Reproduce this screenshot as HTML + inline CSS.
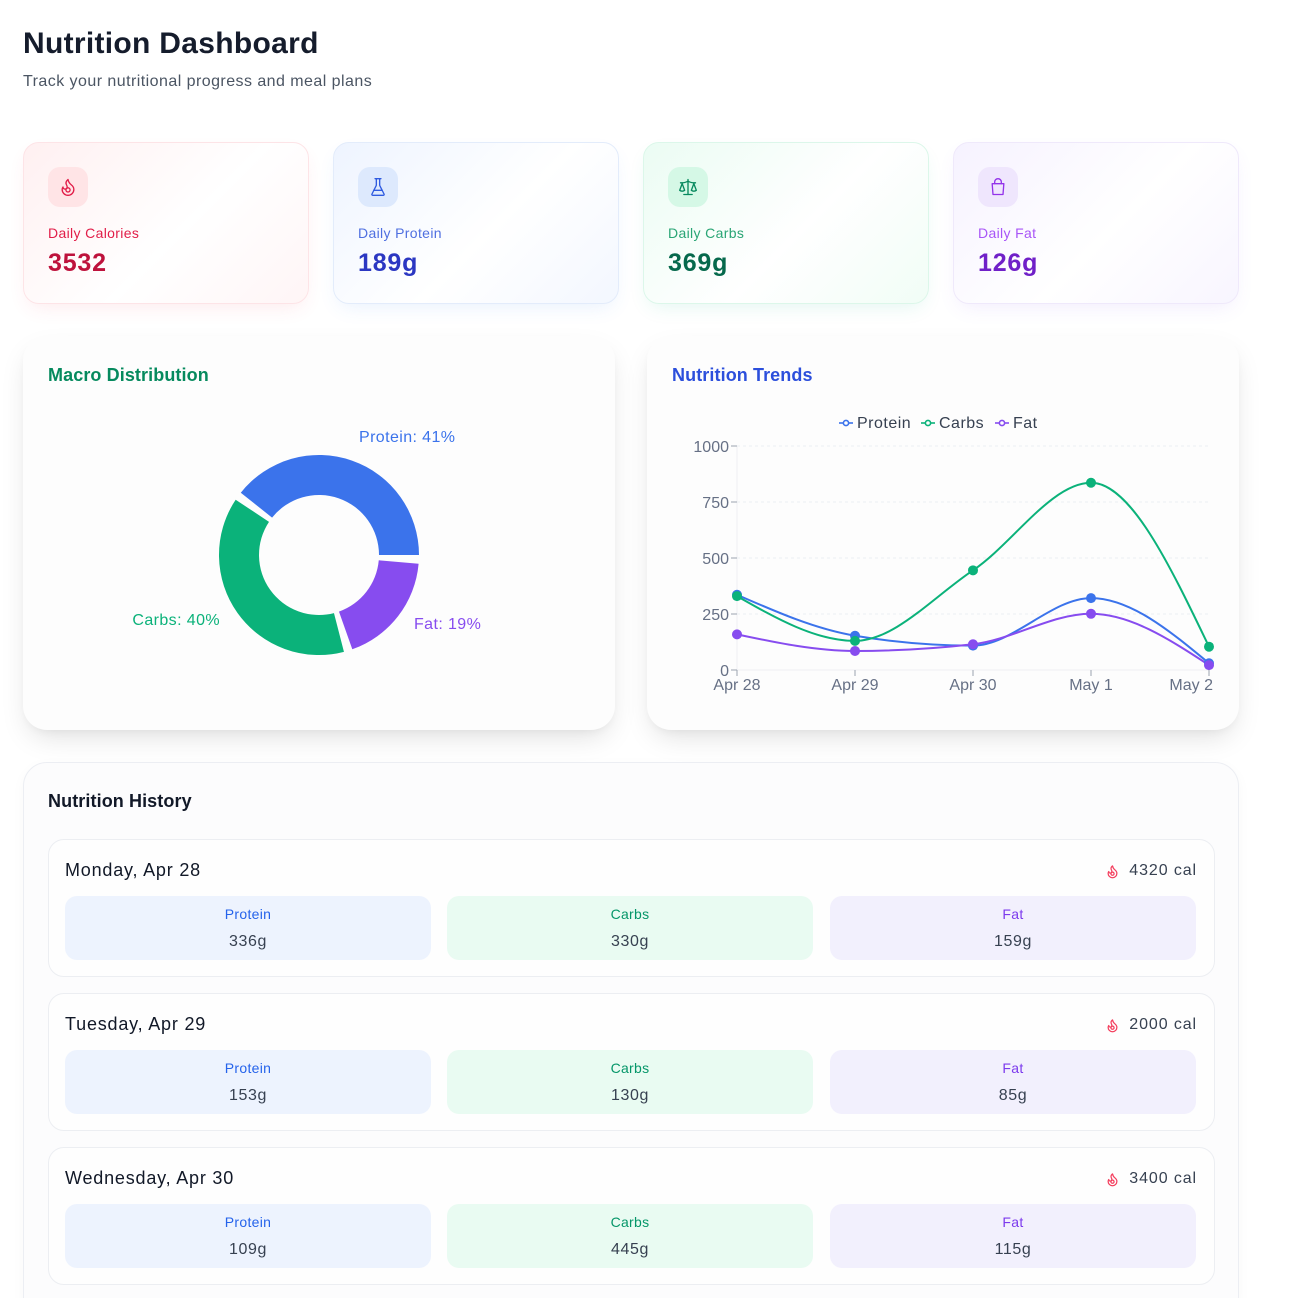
<!DOCTYPE html>
<html><head><meta charset="utf-8">
<style>
*{box-sizing:border-box;margin:0;padding:0}
html,body{width:1294px;height:1298px;overflow:hidden;background:#fff;font-family:"Liberation Sans",Arial,sans-serif;color:#111827}
#wrap{position:relative;width:1294px;height:1298px;overflow:hidden}
.abs{position:absolute}
h1{position:absolute;left:23px;top:25px;font-size:30px;font-weight:bold;color:#151c2c;line-height:38px;letter-spacing:0.3px}
.sub{position:absolute;left:23px;top:72px;font-size:16px;color:#4b5563;line-height:20px;letter-spacing:0.45px}
.stat{position:absolute;top:142px;width:286px;height:162px;border-radius:16px;border:1px solid}
.stat .ib{position:absolute;left:24px;top:24px;width:40px;height:40px;border-radius:12px;display:flex;align-items:center;justify-content:center}
.stat .lb{position:absolute;left:24px;top:81px;font-size:14px;line-height:18px;letter-spacing:0.35px}
.stat .vl{position:absolute;left:24px;top:105px;font-size:25px;font-weight:bold;line-height:30px;letter-spacing:0.8px}
.cc{position:absolute;top:336px;width:592px;height:394px;border-radius:24px;background:#fdfdfd;box-shadow:0 12px 28px -6px rgba(0,0,0,0.13),0 4px 10px -4px rgba(0,0,0,0.06)}
.ct{position:absolute;left:25px;top:27px;font-size:18px;font-weight:bold;line-height:24px;letter-spacing:0.1px}
.hist{position:absolute;left:23px;top:762px;width:1216px;height:560px;border-radius:24px;background:#fcfcfd;border:1px solid #eceef3;box-shadow:0 4px 14px rgba(0,0,0,0.03)}
.ent{position:absolute;left:24px;width:1167px;height:138px;border-radius:16px;background:#fefefe;border:1px solid #eceef2}
.ent .d{position:absolute;left:16px;top:19px;font-size:18px;line-height:22px;color:#111827;letter-spacing:0.8px}
.ent .cal{position:absolute;right:17px;top:21px;font-size:16px;line-height:20px;color:#374151;display:flex;align-items:center;letter-spacing:0.9px}
.ent .cal svg{margin-right:9px}
.mb{position:absolute;top:56px;width:366px;height:64px;border-radius:12px;text-align:center}
.mb .l{position:absolute;left:0;right:0;top:10px;font-size:14px;line-height:16px;letter-spacing:0.3px}
.mb .v{position:absolute;left:0;right:0;top:36px;font-size:16px;line-height:20px;color:#374151;letter-spacing:0.6px}
.p{background:#edf3fe}.p .l{color:#2563eb}
.c{background:#e9fbf2}.c .l{color:#059669}
.f{background:#f2f0fd}.f .l{color:#7c3aed}
</style></head><body>
<div id="wrap">

<h1>Nutrition Dashboard</h1>
<div class="sub">Track your nutritional progress and meal plans</div>

<div class="stat" style="left:23px;border-color:#fde4e7;background:linear-gradient(135deg,#fff0f1 0%,#fff 55%,#fff5f6 100%);box-shadow:0 8px 20px -6px rgba(244,63,94,0.12)">
  <div class="ib" style="background:#ffe4e6">
    <svg width="20" height="20" viewBox="0 0 24 24" fill="none" stroke="#e11d48" stroke-width="1.6" stroke-linecap="round" stroke-linejoin="round"><path d="M8.5 14.5A2.5 2.5 0 0 0 11 12c0-1.38-.5-2-1-3-1.072-2.143-.224-4.054 2-6 .5 2.5 2 4.9 4 6.5 2 1.6 3 3.5 3 5.5a7 7 0 1 1-14 0c0-1.153.433-2.294 1-3a2.5 2.5 0 0 0 2.5 2.5z"/><circle cx="12" cy="15.5" r="2.5"/></svg>
  </div>
  <div class="lb" style="color:#e11d48">Daily Calories</div>
  <div class="vl" style="color:#be123c">3532</div>
</div>

<div class="stat" style="left:333px;border-color:#e3ecfb;background:linear-gradient(135deg,#eef4ff 0%,#fff 55%,#f3f7ff 100%);box-shadow:0 8px 20px -6px rgba(59,130,246,0.12)">
  <div class="ib" style="background:#dde9fd">
    <svg width="20" height="20" viewBox="0 0 24 24" fill="none" stroke="#2f5be0" stroke-width="1.6" stroke-linecap="round" stroke-linejoin="round"><path d="M10 2v7.527a2 2 0 0 1-.211.896L4.72 20.55a1 1 0 0 0 .9 1.45h12.76a1 1 0 0 0 .9-1.450l-5.069-10.127A2 2 0 0 1 14 9.527V2"/><path d="M8.5 2h7"/><path d="M7 16h10"/></svg>
  </div>
  <div class="lb" style="color:#4f6fe0">Daily Protein</div>
  <div class="vl" style="color:#2b37c2">189g</div>
</div>

<div class="stat" style="left:643px;border-color:#dcf7ea;background:linear-gradient(135deg,#ebfcf3 0%,#fff 55%,#f1fdf6 100%);box-shadow:0 8px 20px -6px rgba(16,185,129,0.12)">
  <div class="ib" style="background:#d5f8e6">
    <svg width="20" height="20" viewBox="0 0 24 24" fill="none" stroke="#07895e" stroke-width="1.6" stroke-linecap="round" stroke-linejoin="round"><path d="m16 16 3-8 3 8c-.87.65-1.920 1-3 1s-2.13-.35-3-1Z"/><path d="m2 16 3-8 3 8c-.87.65-1.92 1-3 1s-2.13-.35-3-1Z"/><path d="M7 21h10"/><path d="M12 3v18"/><path d="M3 7h2c2 0 5-1 7-2 2 1 5 2 7 2h2"/></svg>
  </div>
  <div class="lb" style="color:#2aa575">Daily Carbs</div>
  <div class="vl" style="color:#06694c">369g</div>
</div>

<div class="stat" style="left:953px;border-color:#efe9fb;background:linear-gradient(135deg,#f6f2ff 0%,#fff 55%,#f8f5ff 100%);box-shadow:0 8px 20px -6px rgba(139,92,246,0.12)">
  <div class="ib" style="background:#efe6fd">
    <svg width="20" height="20" viewBox="0 0 24 24" fill="none" stroke="#9333ea" stroke-width="1.6" stroke-linecap="round" stroke-linejoin="round"><path d="M8 8V6a4 4 0 0 1 8 0v2"/><path d="M5 8h14l-1 13H6Z"/></svg>
  </div>
  <div class="lb" style="color:#a855f7">Daily Fat</div>
  <div class="vl" style="color:#7020c8">126g</div>
</div>

<div class="cc" style="left:23px">
  <div class="ct" style="color:#068a5e">Macro Distribution</div>
</div>
<div class="cc" style="left:647px">
  <div class="ct" style="color:#2c4fdc">Nutrition Trends</div>
</div>

<svg class="abs" style="left:0;top:0" width="1294" height="760" viewBox="0 0 1294 760">
  <path d="M419,555 A100,100 0 0 0 240.78,492.69 L272.07,517.61 A60,60 0 0 1 379,555 Z" fill="#3b73eb"/>
  <path d="M235.66,499.73 A100,100 0 0 0 343.95,651.84 L333.97,613.10 A60,60 0 0 1 269.00,521.84 Z" fill="#0bb27a"/>
  <path d="M352.30,649.29 A100,100 0 0 0 418.61,563.80 L378.77,560.28 A60,60 0 0 1 338.98,611.57 Z" fill="#874cef"/>
  <g font-family="Liberation Sans, Arial, sans-serif" font-size="16" letter-spacing="0.4">
    <text x="359" y="442" fill="#3b73eb">Protein: 41%</text>
    <text x="220" y="625" fill="#0bb27a" text-anchor="end">Carbs: 40%</text>
    <text x="414" y="629" fill="#874cef">Fat: 19%</text>
  </g>

  <g stroke="#eceef2" stroke-width="1" stroke-dasharray="3 3">
    <line x1="737" y1="446" x2="1209" y2="446"/>
    <line x1="737" y1="502" x2="1209" y2="502"/>
    <line x1="737" y1="558" x2="1209" y2="558"/>
    <line x1="737" y1="614" x2="1209" y2="614"/>
  </g>
  <line x1="737" y1="446" x2="737" y2="670" stroke="#eef0f3" stroke-width="1"/>
  <line x1="737" y1="670" x2="1209" y2="670" stroke="#eef0f3" stroke-width="1"/>
  <g stroke="#9ca3af" stroke-width="1">
    <line x1="731" y1="446" x2="737" y2="446"/>
    <line x1="731" y1="502" x2="737" y2="502"/>
    <line x1="731" y1="558" x2="737" y2="558"/>
    <line x1="731" y1="614" x2="737" y2="614"/>
    <line x1="731" y1="670" x2="737" y2="670"/>
    <line x1="737" y1="670" x2="737" y2="676"/>
    <line x1="855" y1="670" x2="855" y2="676"/>
    <line x1="973" y1="670" x2="973" y2="676"/>
    <line x1="1091" y1="670" x2="1091" y2="676"/>
    <line x1="1209" y1="670" x2="1209" y2="676"/>
  </g>
  <g font-family="Liberation Sans, Arial, sans-serif" font-size="16" fill="#667085">
    <text x="729" y="452" text-anchor="end">1000</text>
    <text x="729" y="508" text-anchor="end">750</text>
    <text x="729" y="564" text-anchor="end">500</text>
    <text x="729" y="620" text-anchor="end">250</text>
    <text x="729" y="676" text-anchor="end">0</text>
    <text x="737" y="690" text-anchor="middle">Apr 28</text>
    <text x="855" y="690" text-anchor="middle">Apr 29</text>
    <text x="973" y="690" text-anchor="middle">Apr 30</text>
    <text x="1091" y="690" text-anchor="middle">May 1</text>
    <text x="1213" y="690" text-anchor="end">May 2</text>
  </g>

  <path d="M737,594.74 C776.33,611.96 815.67,629.17 855,635.73 C894.33,642.29 933.67,645.58 973,645.58 C1012.33,645.58 1051.67,598.10 1091,598.10 C1130.33,598.10 1169.67,630.69 1209,663.28" fill="none" stroke="#3b73eb" stroke-width="2"/>
  <path d="M737,596.08 C776.33,618.48 815.67,640.88 855,640.88 C894.33,640.88 933.67,596.68 973,570.32 C1012.33,543.96 1051.67,482.74 1091,482.74 C1130.33,482.74 1169.67,564.72 1209,646.70" fill="none" stroke="#0bb27a" stroke-width="2"/>
  <path d="M737,634.38 C776.33,642.67 815.67,650.96 855,650.96 C894.33,650.96 933.67,648.72 973,644.24 C1012.33,639.76 1051.67,613.78 1091,613.78 C1130.33,613.78 1169.67,639.42 1209,665.07" fill="none" stroke="#874cef" stroke-width="2"/>
  <g fill="#3b73eb">
    <circle cx="737" cy="594.74" r="5"/><circle cx="855" cy="635.73" r="5"/><circle cx="973" cy="645.58" r="5"/><circle cx="1091" cy="598.10" r="5"/><circle cx="1209" cy="663.28" r="5"/>
  </g>
  <g fill="#0bb27a">
    <circle cx="737" cy="596.08" r="5"/><circle cx="855" cy="640.88" r="5"/><circle cx="973" cy="570.32" r="5"/><circle cx="1091" cy="482.74" r="5"/><circle cx="1209" cy="646.70" r="5"/>
  </g>
  <g fill="#874cef">
    <circle cx="737" cy="634.38" r="5"/><circle cx="855" cy="650.96" r="5"/><circle cx="973" cy="644.24" r="5"/><circle cx="1091" cy="613.78" r="5"/><circle cx="1209" cy="665.07" r="5"/>
  </g>

  <g stroke-width="1.6" fill="#fff">
    <line x1="839" y1="423" x2="853" y2="423" stroke="#3b73eb"/><circle cx="846" cy="423" r="2.6" stroke="#3b73eb"/>
    <line x1="921" y1="423" x2="935" y2="423" stroke="#0bb27a"/><circle cx="928" cy="423" r="2.6" stroke="#0bb27a"/>
    <line x1="995" y1="423" x2="1009" y2="423" stroke="#874cef"/><circle cx="1002" cy="423" r="2.6" stroke="#874cef"/>
  </g>
  <g font-family="Liberation Sans, Arial, sans-serif" font-size="16" fill="#374151" letter-spacing="0.5">
    <text x="857" y="428">Protein</text>
    <text x="939" y="428">Carbs</text>
    <text x="1013" y="428">Fat</text>
  </g>
</svg>

<div class="hist">
  <div class="abs" style="left:24px;top:27px;font-size:18px;font-weight:bold;line-height:22px;color:#111827;letter-spacing:0.1px">Nutrition History</div>

  <div class="ent" style="top:76px">
    <div class="d">Monday, Apr 28</div>
    <div class="cal"><svg width="15" height="15" viewBox="0 0 24 24" fill="none" stroke="#f43f5e" stroke-width="2" stroke-linecap="round" stroke-linejoin="round"><path d="M8.5 14.5A2.5 2.5 0 0 0 11 12c0-1.38-.5-2-1-3-1.072-2.143-.224-4.054 2-6 .5 2.5 2 4.9 4 6.5 2 1.6 3 3.5 3 5.5a7 7 0 1 1-14 0c0-1.153.433-2.294 1-3a2.5 2.5 0 0 0 2.5 2.5z"/><circle cx="12" cy="15.5" r="2.5"/></svg>4320 cal</div>
    <div class="mb p" style="left:16px"><div class="l">Protein</div><div class="v">336g</div></div>
    <div class="mb c" style="left:398px"><div class="l">Carbs</div><div class="v">330g</div></div>
    <div class="mb f" style="left:781px"><div class="l">Fat</div><div class="v">159g</div></div>
  </div>

  <div class="ent" style="top:230px">
    <div class="d">Tuesday, Apr 29</div>
    <div class="cal"><svg width="15" height="15" viewBox="0 0 24 24" fill="none" stroke="#f43f5e" stroke-width="2" stroke-linecap="round" stroke-linejoin="round"><path d="M8.5 14.5A2.5 2.5 0 0 0 11 12c0-1.38-.5-2-1-3-1.072-2.143-.224-4.054 2-6 .5 2.5 2 4.9 4 6.5 2 1.6 3 3.5 3 5.5a7 7 0 1 1-14 0c0-1.153.433-2.294 1-3a2.5 2.5 0 0 0 2.5 2.5z"/><circle cx="12" cy="15.5" r="2.5"/></svg>2000 cal</div>
    <div class="mb p" style="left:16px"><div class="l">Protein</div><div class="v">153g</div></div>
    <div class="mb c" style="left:398px"><div class="l">Carbs</div><div class="v">130g</div></div>
    <div class="mb f" style="left:781px"><div class="l">Fat</div><div class="v">85g</div></div>
  </div>

  <div class="ent" style="top:384px">
    <div class="d">Wednesday, Apr 30</div>
    <div class="cal"><svg width="15" height="15" viewBox="0 0 24 24" fill="none" stroke="#f43f5e" stroke-width="2" stroke-linecap="round" stroke-linejoin="round"><path d="M8.5 14.5A2.5 2.5 0 0 0 11 12c0-1.38-.5-2-1-3-1.072-2.143-.224-4.054 2-6 .5 2.5 2 4.9 4 6.5 2 1.6 3 3.5 3 5.5a7 7 0 1 1-14 0c0-1.153.433-2.294 1-3a2.5 2.5 0 0 0 2.5 2.5z"/><circle cx="12" cy="15.5" r="2.5"/></svg>3400 cal</div>
    <div class="mb p" style="left:16px"><div class="l">Protein</div><div class="v">109g</div></div>
    <div class="mb c" style="left:398px"><div class="l">Carbs</div><div class="v">445g</div></div>
    <div class="mb f" style="left:781px"><div class="l">Fat</div><div class="v">115g</div></div>
  </div>
</div>

</div>
</body></html>
